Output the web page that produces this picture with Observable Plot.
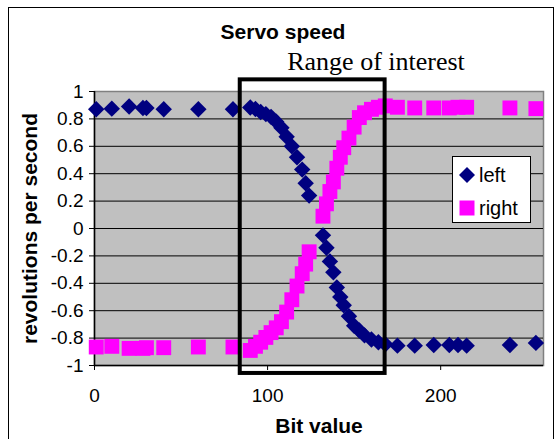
<!DOCTYPE html>
<html>
<head>
<meta charset="utf-8">
<script src="https://cdn.jsdelivr.net/npm/d3@7"></script>
<script src="https://cdn.jsdelivr.net/npm/@observablehq/plot@0.6"></script>
<style>
  html, body { margin: 0; padding: 0; background: white; }
  #wrap { position: relative; width: 559px; height: 439px; overflow: hidden; font-family: "Liberation Sans", Arial, sans-serif; }
  #border { position: absolute; left: 8px; top: 7px; width: 546px; height: 440px; border: 1px solid black; box-sizing: border-box; pointer-events: none; }
  #legend { position: absolute; left: 452px; top: 156px; width: 79px; height: 67px; border: 1px solid black; box-sizing: border-box; background: white; font-size: 20px; }
  #legend .item { position: absolute; left: 0; display: flex; align-items: center; }
  #legend svg { display: block; }
</style>
</head>
<body>
<div id="wrap">
  <div id="chart"></div>
  <div id="border"></div>
  <div id="legend"></div>
</div>
<script>
// Bit values (x) shared by both series
const bits = [1, 10, 20, 28, 30, 40, 60, 80, 90, 93, 96, 99, 102, 105, 108, 111, 114, 117, 120, 122, 124,
              132, 134, 136, 138, 140, 142, 144, 147, 150, 153, 156, 160, 164, 168, 175, 185, 196, 205, 210, 215, 240, 255];
// Left servo (revolutions per second)
const leftSpeed = [0.87, 0.875, 0.89, 0.88, 0.88, 0.87, 0.87, 0.87, 0.883, 0.872, 0.85, 0.835, 0.815, 0.78, 0.735, 0.67, 0.6, 0.52, 0.43, 0.33, 0.24,
                   -0.05, -0.14, -0.24, -0.32, -0.43, -0.5, -0.56, -0.64, -0.71, -0.745, -0.78, -0.81, -0.83, -0.845, -0.855, -0.855, -0.85, -0.85, -0.85, -0.855, -0.85, -0.835];
// Right servo (revolutions per second)
const rightSpeed = [-0.865, -0.86, -0.875, -0.875, -0.87, -0.87, -0.865, -0.865, -0.89, -0.86, -0.83, -0.795, -0.76, -0.725, -0.68, -0.61, -0.52, -0.42, -0.33, -0.26, -0.17,
                    0.09, 0.18, 0.27, 0.34, 0.44, 0.52, 0.59, 0.66, 0.74, 0.81, 0.845, 0.87, 0.885, 0.895, 0.885, 0.88, 0.88, 0.88, 0.885, 0.885, 0.88, 0.875];
const seriesNames = ["left", "right"];
const xTicks = [0, 100, 200];
const yTicks = [-1, -0.8, -0.6, -0.4, -0.2, 0, 0.2, 0.4, 0.6, 0.8, 1];
const gridLevels = [-0.8, -0.6, -0.4, -0.2, 0, 0.2, 0.4, 0.6, 0.8];
// Annotated "Range of interest" (bit value span and vertical extent in data units)
const rangeBox = [{x1: 84.2, x2: 167.9, y1: -1.058, y2: 1.085}];
const titleText = "Servo speed";
const rangeLabel = "Range of interest";
const xLabel = "Bit value";
const yLabel = "revolutions per second";

const leftData = bits.map((b, i) => ({bit: b, v: leftSpeed[i]}));
const rightData = bits.map((b, i) => ({bit: b, v: rightSpeed[i]}));

const navy = "#000080", magenta = "#ff00ff";
const fmt = d => String(+d.toFixed(1));

const chart = Plot.plot({
  width: 559,
  height: 439,
  marginLeft: 94,
  marginRight: 16,
  marginTop: 91,
  marginBottom: 74,
  style: {fontFamily: "'Liberation Sans', Arial, sans-serif", fontSize: "19px", color: "black", background: "transparent", overflow: "visible"},
  x: {domain: [0, 259.4], label: null},
  y: {domain: [-1, 1], label: null},
  marks: [
    Plot.frame({fill: "#c0c0c0", stroke: "#808080", strokeWidth: 1.5}),
    Plot.gridY(gridLevels, {stroke: "black", strokeOpacity: 1, strokeWidth: 1}),
    Plot.ruleX([0], {stroke: "black", strokeWidth: 1.5}),
    Plot.ruleY([-1], {stroke: "black", strokeWidth: 1.5}),
    Plot.axisX(xTicks, {tickSize: 5, tickPadding: 18, fontSize: 19, stroke: "black", label: null}),
    Plot.axisY(yTicks, {tickSize: 5, tickPadding: 6, fontSize: 19, tickFormat: fmt, stroke: "black", label: null}),
    Plot.dot(leftData, {x: "bit", y: "v", symbol: "diamond2", r: 7.4, fill: navy, stroke: null}),
    Plot.dot(rightData, {x: "bit", y: "v", symbol: "square", r: 8.4, fill: magenta, stroke: null}),
    Plot.rect(rangeBox, {x1: "x1", x2: "x2", y1: "y1", y2: "y2", fill: "none", stroke: "black", strokeWidth: 4, clip: false}),
    Plot.text([titleText], {frameAnchor: "top", dx: -36, dy: -53, lineAnchor: "bottom", fontWeight: "bold", fontSize: 21}),
    Plot.text([rangeLabel], {frameAnchor: "top", dx: 57, dy: -22, lineAnchor: "bottom", fontSize: 26, fontFamily: "'Liberation Serif', 'Times New Roman', serif"}),
    Plot.text([xLabel], {frameAnchor: "bottom", dx: 0, dy: 67, lineAnchor: "bottom", fontWeight: "bold", fontSize: 21}),
    Plot.text([yLabel], {frameAnchor: "left", dx: -58, rotate: -90, textAnchor: "middle", lineAnchor: "bottom", fontWeight: "bold", fontSize: 21})
  ]
});
document.getElementById("chart").appendChild(chart);

// Legend
const legend = document.getElementById("legend");
const items = [
  {name: seriesNames[0], color: navy, shape: "diamond", top: 5},
  {name: seriesNames[1], color: magenta, shape: "square", top: 38}
];
for (const it of items) {
  const div = document.createElement("div");
  div.className = "item";
  div.style.top = it.top + "px";
  const ns = "http://www.w3.org/2000/svg";
  const svg = document.createElementNS(ns, "svg");
  svg.setAttribute("width", 26);
  svg.setAttribute("height", 26);
  const g = document.createElementNS(ns, "path");
  g.setAttribute("fill", it.color);
  g.setAttribute("d", it.shape === "diamond"
    ? "M14,5 L22,13 L14,21 L6,13 Z"
    : "M6.5,5.5 H21.5 V20.5 H6.5 Z");
  svg.appendChild(g);
  div.appendChild(svg);
  const span = document.createElement("span");
  span.textContent = it.name;
  span.style.lineHeight = "26px";
  div.appendChild(span);
  legend.appendChild(div);
}
</script>
</body>
</html>
